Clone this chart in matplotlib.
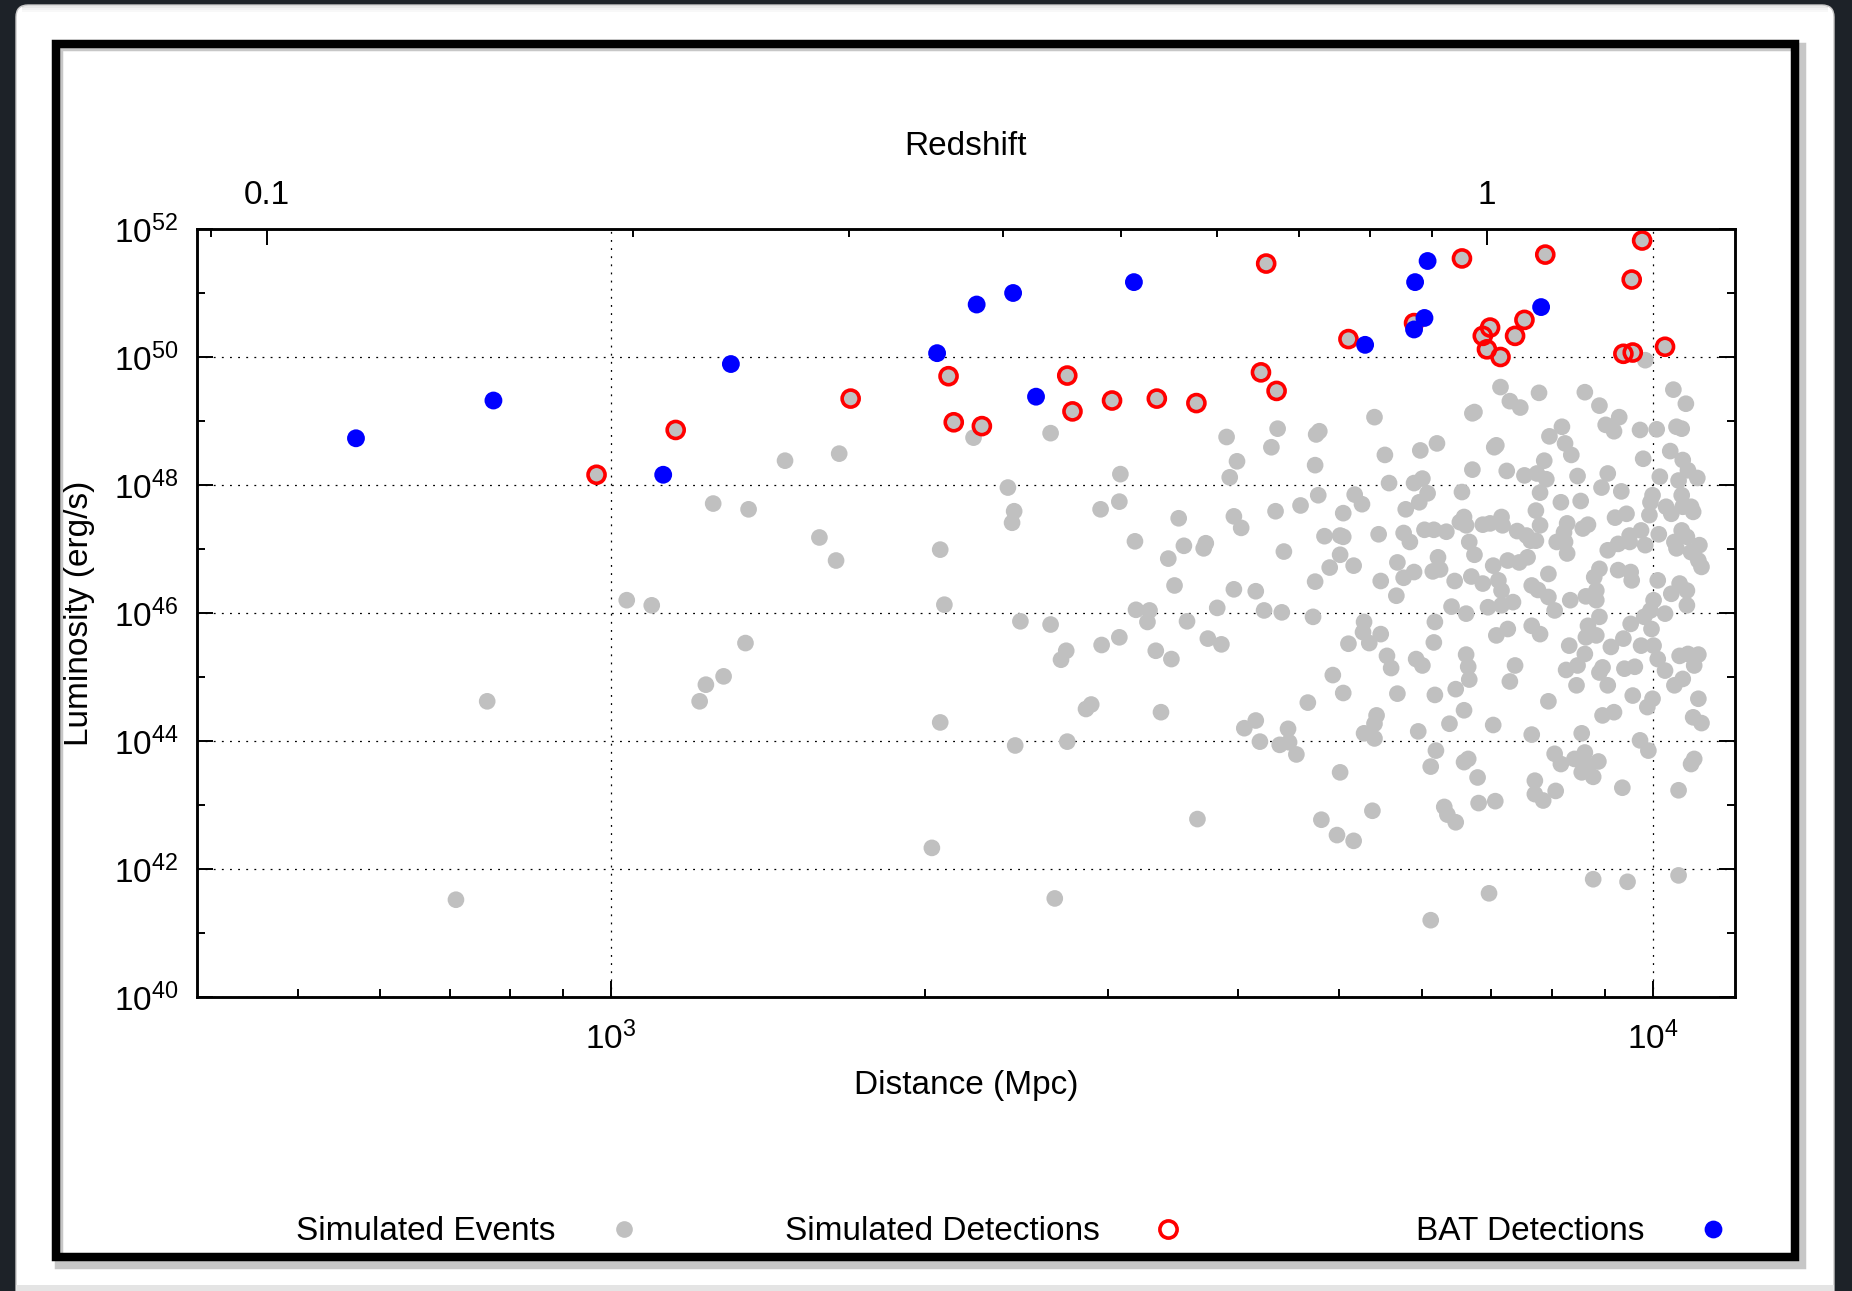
import numpy as np
import matplotlib
matplotlib.use("Agg")
import matplotlib.pyplot as plt
from matplotlib.patches import Rectangle, FancyBboxPatch
from matplotlib.lines import Line2D
from matplotlib.transforms import IdentityTransform
from matplotlib.ticker import FixedLocator, FixedFormatter, FuncFormatter, NullFormatter

plt.rcParams['font.family'] = ['Liberation Sans', 'DejaVu Sans']
plt.rcParams['mathtext.fontset'] = 'custom'
plt.rcParams['mathtext.rm'] = 'Liberation Sans'
plt.rcParams['mathtext.it'] = 'Liberation Sans:italic'
plt.rcParams['mathtext.bf'] = 'Liberation Sans:bold'

# ---------------------------------------------------------------------------
# Data: log10(distance / Mpc) and log10(luminosity / erg s^-1)
# ---------------------------------------------------------------------------
event_log_dist = [
    2.851, 2.881, 3.015, 3.039, 3.085, 3.091, 3.098, 3.108, 3.129, 3.132, 3.167, 3.200, 3.216, 3.219,
    3.316, 3.320, 3.316, 3.308, 3.348, 3.422, 3.381, 3.387, 3.385, 3.489, 3.488, 3.470, 3.503, 3.393,
    3.422, 3.437, 3.432, 3.471, 3.488, 3.504, 3.517, 3.515, 3.523, 3.456, 3.461, 3.528, 3.388, 3.438,
    3.426,
    3.733, 3.591, 3.640, 3.634, 3.680, 3.677, 3.676, 3.743, 3.777, 3.793, 3.601, 3.594, 3.747, 3.771,
    3.779, 3.784, 3.776, 3.763, 3.714, 3.721, 3.703, 3.679, 3.662, 3.638, 3.598, 3.605, 3.545, 3.571,
    3.569, 3.550, 3.535, 3.646, 3.685, 3.700, 3.703, 3.700, 3.690, 3.713, 3.737, 3.761, 3.767, 3.781,
    3.790, 3.802, 3.755, 3.771, 3.761, 3.789, 3.796, 3.794, 3.739, 3.754, 3.676, 3.541, 3.598, 3.619,
    3.582, 3.627, 3.644, 3.674, 3.553, 3.573, 3.586, 3.723, 3.722, 3.739, 3.728, 3.708, 3.791, 3.790,
    3.538, 3.745, 3.749, 3.773, 3.779, 3.693, 3.703, 3.669, 3.755, 3.791, 3.608, 3.619, 3.623, 3.650,
    3.642, 3.651, 3.658, 3.735, 3.733, 3.723, 3.733, 3.775, 3.792, 3.787, 3.700, 3.563, 3.682, 3.697,
    3.713, 3.731, 3.787,
    3.854, 3.863, 3.873, 3.891, 3.935, 3.949, 3.968, 3.955, 3.963, 3.993, 4.020, 4.032, 4.023, 4.028,
    3.988, 4.004, 3.827, 3.829, 3.848, 3.850, 3.913, 3.901, 3.916, 3.922, 3.896, 3.827, 3.860, 3.877,
    3.889, 3.898, 3.892, 3.928, 3.957, 3.951, 3.970, 3.991, 4.007, 4.017, 4.029, 4.034, 4.025, 4.043,
    3.817, 3.912, 3.931, 4.000, 3.998, 4.013, 4.018, 4.028, 4.037, 4.039, 4.029, 3.888, 3.819, 3.815,
    3.821, 3.837, 3.844, 3.855, 3.856, 3.870, 3.892, 3.918, 3.915, 3.933, 3.938, 3.964, 3.975, 3.997,
    3.989, 3.978, 4.006, 4.028, 4.021, 4.033, 4.045, 3.824, 3.829, 3.879, 3.883, 3.888, 3.908, 3.916,
    3.918, 3.957, 3.967, 3.978, 3.993, 4.023, 4.037, 4.044, 4.047, 3.847, 3.861, 3.872, 3.880, 3.826,
    3.810, 3.837, 3.852, 3.855, 3.842, 3.855, 3.866, 3.807, 3.821, 3.884, 3.890, 3.900, 3.906, 3.900,
    3.921, 3.936, 3.946, 3.946, 3.944, 3.949, 3.967, 3.979, 3.980, 4.005, 4.001, 4.012, 3.998, 4.026,
    4.033, 4.033, 4.018, 3.850, 3.861, 3.884, 3.892, 3.920, 3.938, 3.949, 3.946, 3.936, 3.972, 3.960,
    3.979, 3.992, 3.999, 3.989, 4.001,
    3.821, 3.823, 3.824, 3.811, 3.819, 3.805, 3.847, 3.868, 3.863, 3.900, 3.884, 3.917, 3.928, 3.927,
    3.935, 3.932, 3.952, 3.949, 3.957, 3.973, 3.983, 3.952, 3.963, 3.981, 4.000, 3.995, 4.005, 4.012,
    4.026, 4.034, 4.044, 4.040, 4.021, 4.029, 4.044, 4.039, 4.047, 3.988, 3.996, 3.819, 3.823, 3.832,
    3.906, 3.912, 3.925, 3.935, 3.948, 3.932, 3.943, 3.938, 3.887, 3.887, 3.895, 3.907, 3.971, 4.025,
    4.037, 4.040, 3.800, 3.803, 3.811, 3.833, 3.849, 3.943, 3.976, 4.025, 3.843,
]
event_log_lum = [
    41.52, 44.62, 46.20, 46.12, 44.62, 44.88, 47.71, 45.01, 45.53, 47.62, 48.38, 47.18, 46.82, 48.49,
    46.99, 46.13, 44.29, 42.33, 48.74, 48.81, 47.96, 47.59, 47.41, 48.17, 47.74, 47.62, 47.12, 45.87,
    45.82, 45.41, 45.27, 45.50, 45.62, 46.05, 46.04, 45.86, 45.41, 44.50, 44.57, 44.45, 43.93, 43.99,
    41.54,
    49.06, 48.75, 48.88, 48.59, 48.84, 48.79, 48.31, 48.47, 48.54, 48.65, 48.37, 48.12, 48.03, 48.03,
    48.10, 47.87, 47.73, 47.62, 47.85, 47.70, 47.56, 47.84, 47.68, 47.59, 47.51, 47.33, 47.48, 47.09,
    47.01, 47.05, 46.85, 46.96, 47.20, 47.21, 47.19, 46.91, 46.71, 46.74, 47.23, 47.25, 47.11, 47.30,
    47.30, 47.27, 46.79, 46.64, 46.55, 46.65, 46.68, 46.87, 46.50, 46.27, 46.49, 46.43, 46.37, 46.34,
    46.08, 46.04, 46.01, 45.94, 45.87, 45.60, 45.51, 45.86, 45.70, 45.67, 45.53, 45.52, 45.86, 45.54,
    45.28, 45.33, 45.14, 45.28, 45.18, 45.03, 44.75, 44.60, 44.74, 44.72, 44.20, 44.32, 43.99, 44.19,
    43.94, 43.98, 43.79, 44.40, 44.27, 44.12, 44.04, 44.15, 43.85, 43.60, 43.51, 42.78, 42.77, 42.53,
    42.44, 42.91, 41.20,
    49.53, 49.31, 49.21, 49.44, 49.45, 49.24, 49.06, 48.94, 48.84, 49.95, 49.49, 49.27, 48.91, 48.88,
    48.86, 48.87, 49.12, 49.14, 48.59, 48.62, 48.91, 48.76, 48.65, 48.47, 48.38, 48.24, 48.22, 48.15,
    48.18, 48.09, 47.88, 48.14, 48.18, 47.96, 47.90, 48.41, 48.13, 48.53, 48.39, 48.23, 48.07, 48.11,
    47.89, 47.73, 47.75, 47.84, 47.73, 47.66, 47.55, 47.84, 47.66, 47.58, 47.66, 47.60, 47.50, 47.42,
    47.37, 47.38, 47.40, 47.50, 47.37, 47.28, 47.37, 47.40, 47.26, 47.32, 47.38, 47.49, 47.55, 47.53,
    47.29, 47.21, 47.23, 47.29, 47.11, 47.19, 47.06, 47.11, 46.91, 47.21, 47.13, 47.13, 47.11, 47.11,
    46.93, 46.98, 47.08, 47.11, 47.06, 47.01, 46.95, 46.82, 46.72, 46.74, 46.82, 46.79, 46.87, 46.57,
    46.50, 46.46, 46.51, 46.35, 46.09, 46.12, 46.17, 46.10, 45.99, 46.43, 46.36, 46.25, 46.04, 46.61,
    46.20, 46.26, 46.20, 46.35, 46.56, 46.69, 46.67, 46.64, 46.51, 46.51, 46.20, 45.99, 46.04, 46.46,
    46.35, 46.12, 46.30, 45.65, 45.75, 45.80, 45.67, 45.49, 45.80, 45.94, 45.65, 45.62, 45.60, 45.47,
    45.83, 45.94, 45.75, 45.49, 45.49,
    45.35, 45.16, 44.96, 44.81, 44.48, 44.27, 44.25, 45.18, 44.93, 44.62, 44.10, 45.11, 45.18, 44.87,
    45.36, 44.12, 45.15, 45.07, 44.87, 45.13, 45.16, 44.40, 44.45, 44.71, 44.66, 44.53, 45.28, 45.10,
    45.33, 45.36, 45.35, 45.18, 44.87, 44.97, 44.66, 44.37, 44.28, 44.01, 43.85, 43.67, 43.72, 43.43,
    43.80, 43.64, 43.72, 43.82, 43.68, 43.51, 43.44, 43.61, 43.38, 43.17, 43.07, 43.22, 43.27, 43.23,
    43.64, 43.72, 42.97, 42.85, 42.73, 43.03, 43.06, 41.84, 41.80, 41.90, 41.62,
]

# Simulated events that pass the detection threshold
det_log_dist = [
    2.986, 3.062, 3.230, 3.324, 3.329, 3.356, 3.438, 3.443, 3.481, 3.524, 3.562, 3.624, 3.629, 3.639,
    3.708, 3.771, 3.817, 3.837, 3.841, 3.844, 3.854, 3.868, 3.877, 3.897, 3.972, 3.980, 3.981, 3.990,
    4.012,
]
det_log_lum = [
    48.16, 48.86, 49.35, 49.70, 48.98, 48.92, 49.71, 49.15, 49.32, 49.35, 49.28, 49.76, 51.46, 49.47,
    50.28, 50.53, 51.54, 50.33, 50.12, 50.46, 50.00, 50.33, 50.58, 51.60, 50.05, 51.21, 50.07, 51.82,
    50.16,
]

# Swift/BAT detected events
bat_log_dist = [
    2.755, 2.887, 3.050, 3.115, 3.313, 3.351, 3.386, 3.408, 3.502, 3.724, 3.771, 3.772, 3.781, 3.784,
    3.893,
]
bat_log_lum = [
    48.73, 49.32, 48.16, 49.89, 50.06, 50.82, 51.00, 49.38, 51.17, 50.19, 50.43, 51.17, 50.61, 51.50,
    50.78,
]

# Redshift scale along the top axis (luminosity distance in Mpc at each redshift tick)
z_major = [0.1, 1.0]
z_major_labels = ['0.1', '1']
z_major_dist = [467.0, 6937.0]
z_minor_dist = [413.0, 1050.0, 1693.0, 2378.0, 3090.0, 3817.0, 4575.0, 5358.0, 6143.0]

legend_labels = ['Simulated Events', 'Simulated Detections', 'BAT Detections']

# ---------------------------------------------------------------------------
W, H, DPI = 1852, 1291, 100
fig = plt.figure(figsize=(W / DPI, H / DPI), dpi=DPI, facecolor='#1d2228')
pix = IdentityTransform()


def box(x0, y0, x1, y1, **kw):
    """Rectangle given in pixel coordinates measured from the top-left corner."""
    return Rectangle((x0, H - y1), x1 - x0, y1 - y0, transform=pix, **kw)


# window-like panel and the black frame around the plot
panel = FancyBboxPatch((16, -20), 1834 - 16, H + 20 - 5, boxstyle='round,pad=0,rounding_size=12',
                       transform=pix, facecolor='white', edgecolor='#c8c8c8', lw=1.0, zorder=-10)
fig.add_artist(panel)
for i, a in enumerate([0.18, 0.10, 0.05]):
    fig.add_artist(box(22, 6 + 2 * i, 1828, 8 + 2 * i, facecolor='#808080', alpha=a, lw=0, zorder=-9))
fig.add_artist(box(16, 1285, 1834, H, facecolor='#e4e4e4', lw=0, zorder=-9))
fig.add_artist(box(59, 47, 1802, 1265, facecolor='none', edgecolor='#909090', lw=6.1, alpha=0.5, zorder=-8))
fig.add_artist(box(56, 44, 1795, 1257, facecolor='none', edgecolor='black', lw=6.1, zorder=-7))

# ---------------------------------------------------------------------------
ax_l, ax_r, ax_t, ax_b = 196.7, 1735.0, 229.0, 997.0
ax = fig.add_axes([ax_l / W, 1 - ax_b / H, (ax_r - ax_l) / W, (ax_b - ax_t) / H])
ax.set_xscale('log')
ax.set_yscale('log')
ax.set_xlim(400, 12000)
ax.set_ylim(1e40, 1e52)

ev_d = 10 ** np.concatenate([event_log_dist, det_log_dist])
ev_L = 10 ** np.concatenate([event_log_lum, det_log_lum])
ax.scatter(ev_d, ev_L, s=144, c='#c0c0c0', edgecolors='none', zorder=3)
ax.scatter(10 ** np.array(det_log_dist), 10 ** np.array(det_log_lum), s=150, facecolors='none',
           edgecolors='#ff0000', linewidths=2.6, zorder=4)
ax.scatter(10 ** np.array(bat_log_dist), 10 ** np.array(bat_log_lum), s=165, c='#0000ff',
           edgecolors='none', zorder=5)

pow_fmt = FuncFormatter(lambda v, p: r'$\mathregular{10^{%d}}$' % round(np.log10(v)))
ax.yaxis.set_major_locator(FixedLocator(10.0 ** np.arange(40, 53, 2)))
ax.yaxis.set_minor_locator(FixedLocator(10.0 ** np.arange(41, 52, 2)))
ax.yaxis.set_major_formatter(pow_fmt)
ax.yaxis.set_minor_formatter(NullFormatter())
ax.xaxis.set_major_locator(FixedLocator([1e3, 1e4]))
ax.xaxis.set_minor_locator(FixedLocator([500, 600, 700, 800, 900] + [k * 1000 for k in range(2, 10)]))
ax.xaxis.set_major_formatter(pow_fmt)
ax.xaxis.set_minor_formatter(NullFormatter())

ax.tick_params(which='both', direction='in', width=1.4, labelsize=24, top=False, right=True)
ax.tick_params(which='major', length=11.5)
ax.tick_params(which='minor', length=6)
ax.tick_params(axis='y', pad=13)
ax.tick_params(axis='x', pad=17.5)
ax.grid(True, which='major', color='black', lw=0.9, ls=(0, (1.5, 5)))
for s in ax.spines.values():
    s.set_linewidth(1.8)

ax.set_xlabel('Distance (Mpc)', fontsize=24)
ax.xaxis.set_label_coords(0.5, -0.0945)
ax.set_ylabel('Luminosity (erg/s)', fontsize=24, va='center')
ax.yaxis.set_label_coords(-0.0765, 0.5)

ax2 = ax.twiny()
ax2.set_xscale('log')
ax2.set_xlim(ax.get_xlim())
ax2.xaxis.set_major_locator(FixedLocator(z_major_dist))
ax2.xaxis.set_major_formatter(FixedFormatter(z_major_labels))
ax2.xaxis.set_minor_locator(FixedLocator(z_minor_dist))
ax2.xaxis.set_minor_formatter(NullFormatter())
ax2.tick_params(which='both', direction='in', width=1.4, labelsize=24, pad=13)
ax2.tick_params(which='major', length=11.5)
ax2.tick_params(which='minor', length=6)
for s in ax2.spines.values():
    s.set_linewidth(1.8)
ax2.set_xlabel('Redshift', fontsize=24)
ax2.xaxis.set_label_coords(0.5, 1.096)

# key along the bottom of the frame
text_y = 1232
key_y = 1229
text_right = [555, 1099.6, 1644]
key_x = [623.6, 1168, 1712.5]
styles = [dict(marker='o', ms=12, mfc='#c0c0c0', mec='none'),
          dict(marker='o', ms=12.4, mfc='none', mec='#ff0000', mew=2.6),
          dict(marker='o', ms=12.8, mfc='#0000ff', mec='none')]
for lab, tx, kx, st in zip(legend_labels, text_right, key_x, styles):
    fig.text(tx / W, 1 - text_y / H, lab, fontsize=24, ha='right', va='center')
    fig.add_artist(Line2D([kx / W], [1 - key_y / H], ls='none', transform=fig.transFigure, **st))

fig.savefig('out.png', dpi=DPI)
